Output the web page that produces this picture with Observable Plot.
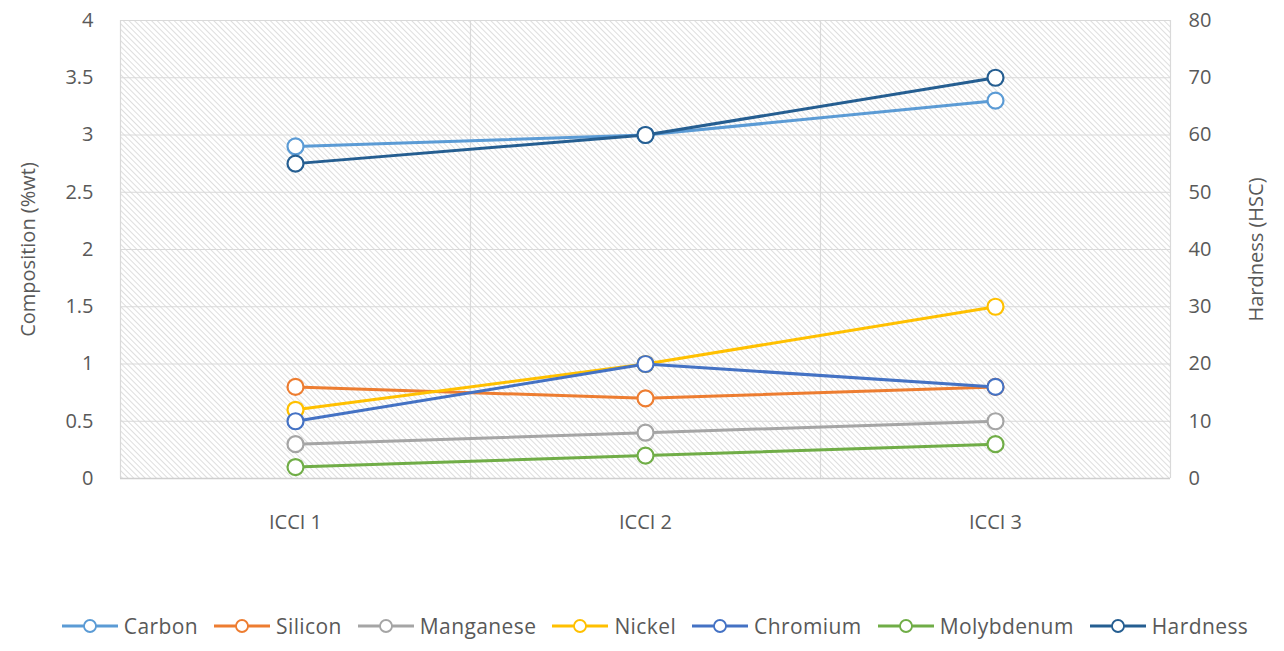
<!DOCTYPE html>
<html><head><meta charset="utf-8">
<script src="https://cdn.jsdelivr.net/npm/d3@7"></script>
<script src="https://cdn.jsdelivr.net/npm/@observablehq/plot@0.6"></script>
<style>
body{margin:0;background:#fff;font-family:"Open Sans",sans-serif;}
#legend{display:flex;justify-content:center;align-items:center;height:51px;padding-left:42px;font-size:21px;letter-spacing:0.4px;color:#595959;}
.item{display:flex;align-items:center;margin-right:16px;}
.item svg{margin-right:6px;}
</style></head><body>
<div id="chart"></div>
<div id="legend"></div>
<script>
const categories = ["ICCI 1", "ICCI 2", "ICCI 3"];
const carbon = [2.9, 3.0, 3.3];
const silicon = [0.8, 0.7, 0.8];
const manganese = [0.3, 0.4, 0.5];
const nickel = [0.6, 1.0, 1.5];
const chromium = [0.5, 1.0, 0.8];
const molybdenum = [0.1, 0.2, 0.3];
const hardness = [55, 60, 70];
const leftTicks = [0, 0.5, 1, 1.5, 2, 2.5, 3, 3.5, 4];
const rightTicks = [0, 10, 20, 30, 40, 50, 60, 70, 80];
const seriesNames = ["Carbon", "Silicon", "Manganese", "Nickel", "Chromium", "Molybdenum", "Hardness"];
const seriesColors = ["#5B9BD5", "#ED7D31", "#A5A5A5", "#FFC000", "#4472C4", "#70AD47", "#255E91"];
const seriesValues = [carbon, silicon, manganese, nickel, chromium, molybdenum, hardness];
const secondary = [false, false, false, false, false, false, true];

const ratio = leftTicks[leftTicks.length - 1] / rightTicks[rightTicks.length - 1];

const series = seriesNames.map((name, s) => ({
  name,
  color: seriesColors[s],
  rows: seriesValues[s].map((v, i) => ({cat: categories[i], xi: i + 0.5, y: secondary[s] ? v * ratio : v}))
}));

const marks = [
  Plot.frame({fill: "url(#hatch)", stroke: null}),
  Plot.ruleY(leftTicks.slice(1), {stroke: "#d9d9d9", strokeWidth: 1.2}),
  Plot.ruleX(d3.range(categories.length + 1), {stroke: "#d9d9d9", strokeWidth: 1.2}),
  Plot.ruleY([0], {stroke: "#cfcfcf", strokeWidth: 1.5}),
  Plot.axisY(leftTicks, {anchor: "left", tickSize: 0, tickPadding: 27, label: "Composition (%wt)", labelAnchor: "center", labelOffset: 100, labelArrow: "none", tickFormat: d => String(d)}),
  Plot.axisY(rightTicks.map(v => v * ratio), {anchor: "right", tickSize: 0, tickPadding: 18, textAnchor: "start", tickFormat: d => String(Math.round(d / ratio)), label: "Hardness (HSC)", labelAnchor: "center", labelOffset: 92, labelArrow: "none"}),
  Plot.axisX(categories.map((c, i) => i + 0.5), {tickSize: 0, tickPadding: 36, tickFormat: d => categories[Math.round(d - 0.5)], label: null})
];
for (const s of series) {
  marks.push(Plot.line(s.rows, {x: "xi", y: "y", stroke: s.color, strokeWidth: 3}));
  marks.push(Plot.dot(s.rows, {x: "xi", y: "y", r: 8, fill: "white", stroke: s.color, strokeWidth: 2.2}));
}

const plot = Plot.plot({
  width: 1284,
  height: 600,
  marginLeft: 120,
  marginRight: 114,
  marginTop: 20,
  marginBottom: 122,
  x: {type: "linear", domain: [0, categories.length]},
  y: {domain: [leftTicks[0], leftTicks[leftTicks.length - 1]]},
  style: {fontFamily: "'Open Sans', sans-serif", fontSize: "20px", color: "#595959", background: "#fff"},
  marks
});
d3.select(plot).insert("defs", ":first-child").html(
  '<pattern id="hatch" patternUnits="userSpaceOnUse" width="4" height="4" patternTransform="rotate(-45)">' +
  '<rect width="4" height="4" fill="#ffffff"/><line x1="0" y1="0" x2="0" y2="4" stroke="#d6d6d6" stroke-width="1.6"/></pattern>'
);
document.getElementById("chart").appendChild(plot);

const legend = d3.select("#legend");
series.forEach(s => {
  const item = legend.append("div").attr("class", "item");
  const svg = item.append("svg").attr("width", 56).attr("height", 20);
  svg.append("line").attr("x1", 0).attr("x2", 56).attr("y1", 10).attr("y2", 10).attr("stroke", s.color).attr("stroke-width", 3);
  svg.append("circle").attr("cx", 28).attr("cy", 10).attr("r", 6).attr("fill", "white").attr("stroke", s.color).attr("stroke-width", 1.8);
  item.append("span").text(s.name);
});
</script>
</body></html>
